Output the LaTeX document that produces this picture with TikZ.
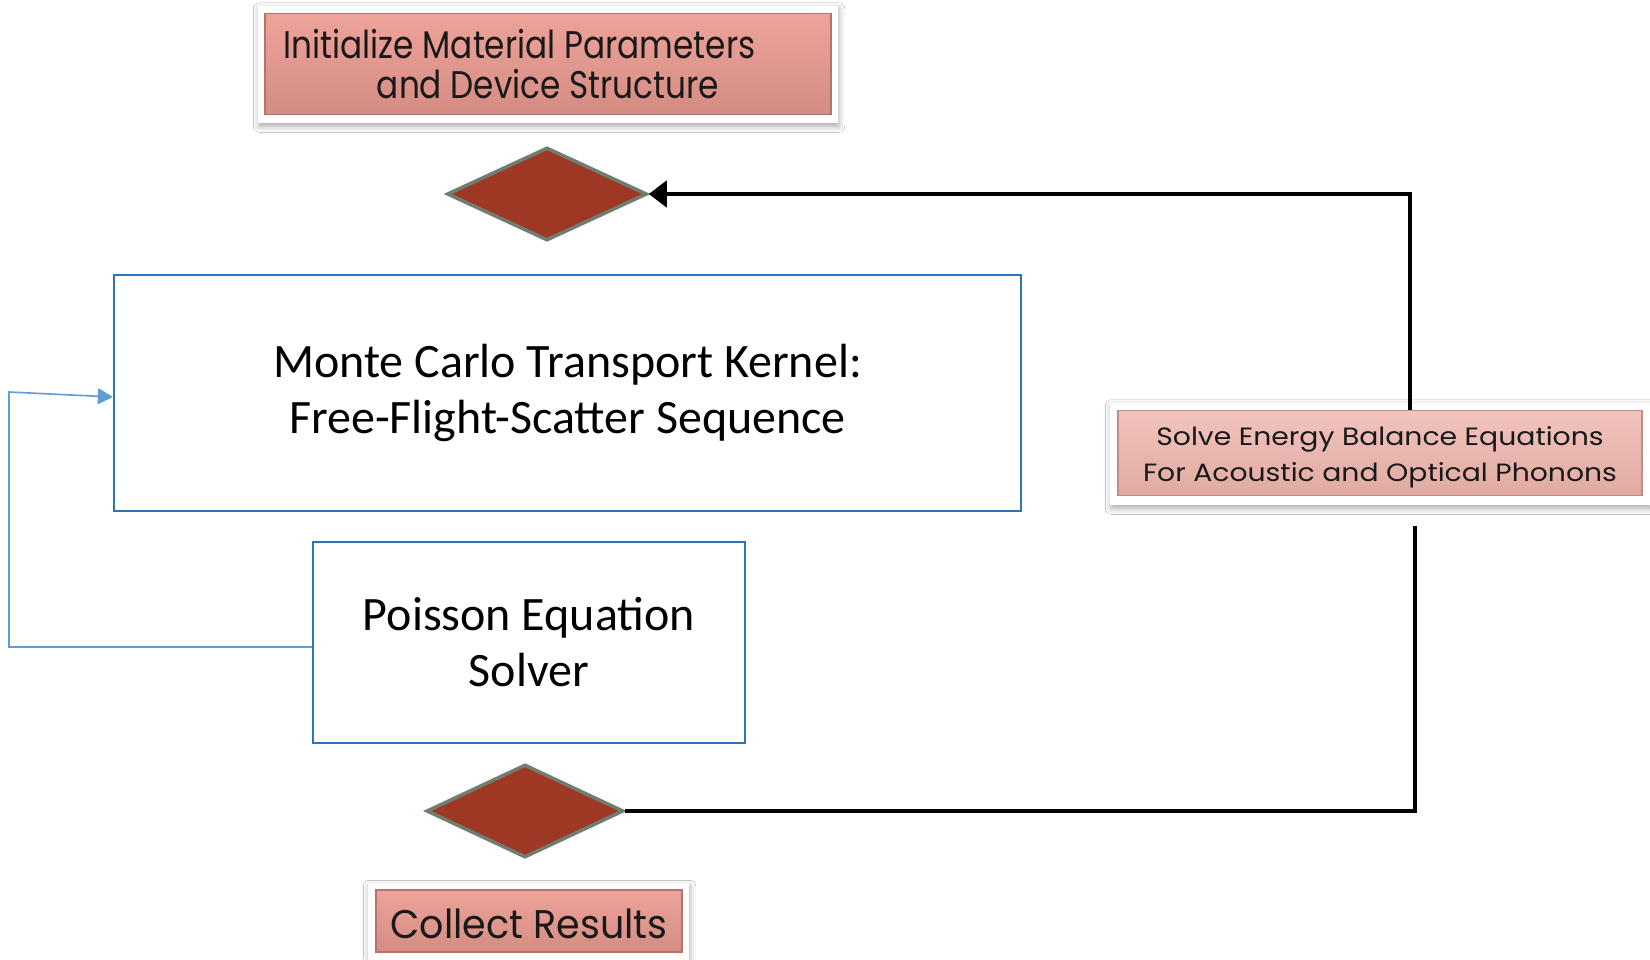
\documentclass[tikz,border=0pt]{standalone}
\usepackage{fontspec}
\setmainfont{Carlito}
% geometric sans faces, stretched per box
\newfontfamily\gothicinit[FakeStretch=0.85]{Poppins}
\newfontfamily\gothicsolve[FakeStretch=1.13]{Poppins}
\newfontfamily\gothiccollect[FakeStretch=0.95]{Poppins}
\usetikzlibrary{shapes.geometric,arrows.meta,shadows.blur,backgrounds}

\definecolor{kernelblue}{RGB}{46,117,182}
\definecolor{loopblue}{RGB}{95,155,215}
\definecolor{rust}{RGB}{158,56,36}
\definecolor{rustedge}{RGB}{112,126,114}
\definecolor{roseTop}{RGB}{238,163,153}
\definecolor{roseBot}{RGB}{212,140,130}
\definecolor{roseEdge}{RGB}{180,116,108}
\definecolor{blushTop}{RGB}{242,196,189}
\definecolor{blushBot}{RGB}{224,170,162}
\definecolor{blushEdge}{RGB}{192,140,132}

\tikzset{
  kernelbox/.style={draw=kernelblue, line width=2.2pt, fill=white, align=center,
    inner sep=0pt, font=\fontsize{48}{56}\selectfont},
  rosebox/.style={draw=roseEdge, line width=1.5pt, top color=roseTop, bottom color=roseBot,
    align=center, inner sep=0pt, text=black!90},
  blushbox/.style={rosebox, draw=blushEdge, top color=blushTop, bottom color=blushBot},
  boxtext/.style={align=center, inner sep=0pt, text=black!90},
  plate/.style={fill=white, blur shadow={shadow xshift=1pt, shadow yshift=-3pt,
    shadow blur radius=6pt, shadow opacity=35}},
  decision/.style={diamond, draw=rustedge, line width=3.5pt, fill=rust, inner sep=0pt},
  flow/.style={draw=black, line width=4.8pt},
  flowtip/.style={-{Triangle[length=18pt,width=26pt]}},
  loopline/.style={draw=loopblue, line width=1.6pt, -{Triangle[length=15pt,width=16pt]}}
}

\begin{document}
\begin{tikzpicture}[x=1pt, y=-1pt]
  \useasboundingbox (0,0) rectangle (1650,959);

  % rose-coloured process boxes
  \node[rosebox, minimum width=566pt, minimum height=101pt,
        font=\gothicinit\fontsize{38.5}{40}\selectfont] (init) at (548,64)
    {Initialize Material Parameters\kern57pt\\and Device Structure};
  \node[blushbox, minimum width=524pt, minimum height=85pt] (solve) at (1380,453) {};
  \node[boxtext, font=\gothicsolve\fontsize{25}{36}\selectfont] (solvetext)
    at ([yshift=-4pt]solve.center)
    {Solve Energy Balance Equations\\For Acoustic and Optical Phonons};
  \node[rosebox, minimum width=306pt, minimum height=62pt] (collect) at (529,921) {};
  \node[boxtext, font=\gothiccollect\fontsize{40}{44}\selectfont] (collecttext)
    at ([yshift=-3pt]collect.center) {Collect Results};

  % page and white plates with soft shadows behind the rose boxes
  \begin{scope}[on background layer]
    \fill[white] (0,0) rectangle (1650,959);
    \path[plate] ([shift={(-6,-7)}]init.north west) rectangle ([shift={(6,8)}]init.south east);
    \path[plate] ([shift={(-7,-7)}]solve.north west) rectangle ([shift={(7,9)}]solve.south east);
    \path[plate] ([shift={(-7,-6)}]collect.north west) rectangle ([shift={(6,8)}]collect.south east);
  \end{scope}

  % decision diamonds
  \node[decision, minimum width=200pt, minimum height=93pt] (d1) at (547,194) {};
  \node[decision, minimum width=197pt, minimum height=93pt] (d2) at (525,811) {};

  % solver blocks
  \node[kernelbox, minimum width=907pt, minimum height=236pt] (mc) at (567.5,393)
    {Monte Carlo Transport Kernel:\\Free-Flight-Scatter Sequence};
  \node[kernelbox, minimum width=432pt, minimum height=201pt] (poisson) at (529,642.5)
    {Poisson Equation\\Solver};

  % feedback from the Poisson solver to the transport kernel
  \coordinate (loopfoot) at (9,647);
  \coordinate (loophead) at (9,392);
  \draw[loopline] ([yshift=-4.5pt]poisson.west) -- (loopfoot) -- (loophead) -- ([yshift=-4pt]mc.west);

  % outer loop through the energy balance solver
  \coordinate (upturn) at (1410,194);
  \coordinate (retstart) at (1415,526);
  \coordinate (downturn) at (1415,811);
  \draw[flow, flowtip] (solve.north -| upturn) -- (upturn) -- (d1.east);
  \draw[flow] (retstart) -- (downturn) -- (d2.east);
\end{tikzpicture}
\end{document}
